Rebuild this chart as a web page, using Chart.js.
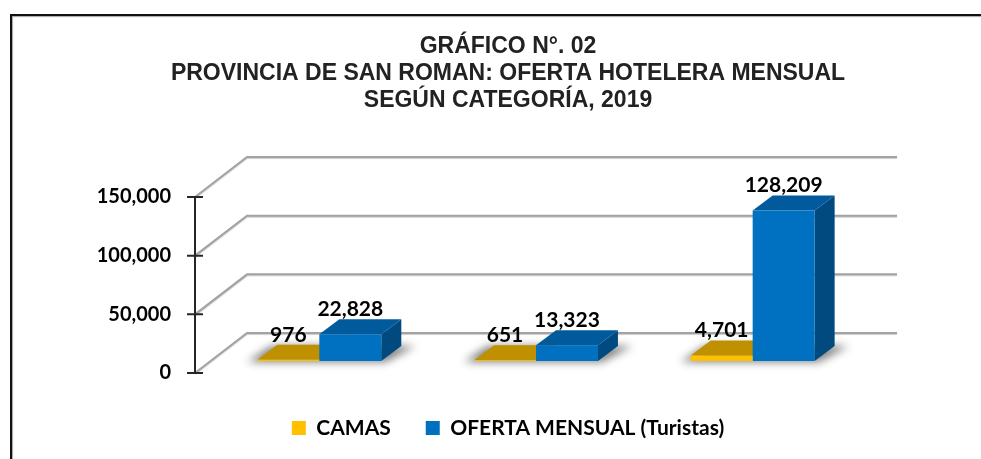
<!DOCTYPE html>
<html lang="es">
<head>
<meta charset="utf-8">
<title>Gráfico N°. 02</title>
<script src="https://cdn.jsdelivr.net/npm/chart.js@4.4.1/dist/chart.umd.min.js"></script>
<style>
  html, body { margin: 0; padding: 0; background: #fff; }
  canvas { display: block; }
</style>
</head>
<body>
<canvas id="grafico" width="981" height="459"></canvas>
<script>
// Oferta hotelera mensual por categoría — barras "3D" al estilo Excel.
// Las caras superior/lateral y la pared del fondo se dibujan con un plugin a partir de las escalas.

const TITULO = ['GRÁFICO N°. 02', 'PROVINCIA DE SAN ROMAN: OFERTA HOTELERA MENSUAL', 'SEGÚN CATEGORÍA, 2019'];
const CATEGORIAS = ['', '', ''];            // el gráfico original no rotula las categorías
const CAMAS = [976, 651, 4701];
const OFERTA_MENSUAL = [22828, 13323, 128209];
const Y_TICKS = [0, 50000, 100000, 150000];

// profundidad de la caja 3D (px): pared del fondo, plano de las barras, grosor de cada barra
const PROF = { dx: 52, dy: 40, barX: 16, barY: 12, caraX: 20, caraY: 15 };
const COLORES = {
    camas: { frente: '#FFC000', arriba: '#BF9000', lado: '#9C7500' },
    oferta: { frente: '#0070C0', arriba: '#005A9C', lado: '#004A80' },
};
const FUENTE = 'Lato, "Open Sans", sans-serif';
const num = n => n.toLocaleString('en-US');

function poligono(ctx, pts, fill) {
    ctx.beginPath();
    ctx.moveTo(pts[0][0], pts[0][1]);
    for (let i = 1; i < pts.length; i++) ctx.lineTo(pts[i][0], pts[i][1]);
    ctx.closePath();
    ctx.fillStyle = fill;
    ctx.fill();
}

const caja3d = {
    id: 'caja3d',
    beforeDraw(chart) {
        const { ctx, width, height } = chart;
        ctx.save();
        ctx.fillStyle = '#fff';
        ctx.fillRect(0, 0, width, height);
        // marco exterior (solo borde superior e izquierdo visibles)
        ctx.strokeStyle = '#111';
        ctx.lineWidth = 2;
        ctx.shadowColor = 'rgba(0,0,0,0.35)';
        ctx.shadowOffsetX = 1;
        ctx.shadowOffsetY = 1;
        ctx.shadowBlur = 1;
        ctx.beginPath();
        ctx.moveTo(11, height);
        ctx.lineTo(11, 15);
        ctx.lineTo(width, 15);
        ctx.stroke();
        ctx.restore();
    },
    beforeDatasetsDraw(chart) {
        const { ctx, chartArea: a, scales: { y } } = chart;
        const x0 = a.left - PROF.barX;                 // plano frontal (eje)
        const xFondo = a.right - PROF.barX + PROF.dx;  // fin de la pared del fondo
        ctx.save();

        // líneas de la pared (diagonal + horizontal)
        ctx.strokeStyle = '#a3a3a3';
        ctx.lineWidth = 2;
        ctx.shadowColor = 'rgba(0,0,0,0.2)';
        ctx.shadowOffsetY = 1;
        ctx.shadowBlur = 1;
        y.ticks.forEach(t => {
            const py = y.getPixelForValue(t.value) + PROF.barY;
            ctx.beginPath();
            ctx.moveTo(x0, py);
            ctx.lineTo(x0 + PROF.dx, py - PROF.dy);
            ctx.lineTo(xFondo, py - PROF.dy);
            ctx.stroke();
        });
        ctx.shadowColor = 'transparent';

        // eje vertical con marcas
        const yTop = y.getPixelForValue(y.max) + PROF.barY;
        const yBot = y.getPixelForValue(y.min) + PROF.barY;
        ctx.strokeStyle = '#262626';
        ctx.lineWidth = 2;
        ctx.beginPath();
        ctx.moveTo(x0, yTop);
        ctx.lineTo(x0, yBot);
        y.ticks.forEach(t => {
            const py = y.getPixelForValue(t.value) + PROF.barY;
            ctx.moveTo(x0 - 8, py);
            ctx.lineTo(x0 + 8, py);
        });
        ctx.stroke();

        // sombra difusa de cada grupo sobre el piso
        const m0 = chart.getDatasetMeta(0), m1 = chart.getDatasetMeta(1);
        ctx.filter = 'blur(4px)';
        m0.data.forEach((b0, i) => {
            const b1 = m1.data[i];
            const l = b0.x - b0.width / 2, r = b1.x + b1.width / 2, base = b0.base;
            poligono(ctx, [[l - 10, base + 1], [r + 4, base + 1], [r + PROF.caraX + 14, base - PROF.caraY],
                [l + PROF.caraX - 6, base - PROF.caraY]], 'rgba(0,0,0,0.5)');
        });
        ctx.filter = 'none';

        // caras superior y lateral (las frontales las pinta Chart.js encima)
        [[m0, COLORES.camas], [m1, COLORES.oferta]].forEach(([meta, c]) => {
            meta.data.forEach(b => {
                const l = b.x - b.width / 2, r = b.x + b.width / 2;
                const dx = PROF.caraX, dy = PROF.caraY;
                poligono(ctx, [[r, b.y], [r + dx, b.y - dy], [r + dx, b.base - dy], [r, b.base]], c.lado);
                poligono(ctx, [[l, b.y], [r, b.y], [r + dx, b.y - dy], [l + dx, b.y - dy]], c.arriba);
            });
        });
        ctx.restore();
    },
    afterDatasetsDraw(chart) {
        const { ctx } = chart;
        ctx.save();
        ctx.font = 'bold 21px ' + FUENTE;
        ctx.fillStyle = '#000';
        ctx.textAlign = 'center';
        ctx.textBaseline = 'middle';
        chart.data.datasets.forEach((ds, di) => {
            chart.getDatasetMeta(di).data.forEach((b, i) => {
                ctx.fillText(num(ds.data[i]), b.x, b.y - 25);
            });
        });
        ctx.restore();
    },
};

new Chart(document.getElementById('grafico'), {
    type: 'bar',
    data: {
        labels: CATEGORIAS,
        datasets: [
            { label: 'CAMAS', data: CAMAS, backgroundColor: COLORES.camas.frente, borderWidth: 0 },
            { label: 'OFERTA MENSUAL (Turistas)', data: OFERTA_MENSUAL, backgroundColor: COLORES.oferta.frente, borderWidth: 0 },
        ],
    },
    options: {
        responsive: false,
        animation: false,
        events: [],
        layout: { padding: { left: 90, right: 55, top: 0, bottom: 10.5 } },
        datasets: { bar: { categoryPercentage: 0.572, barPercentage: 1 } },
        scales: {
            x: {
                grid: { display: false, drawTicks: false },
                border: { display: false },
                ticks: { display: false },
                afterFit: s => { s.height = 21.5; },
            },
            y: {
                min: Y_TICKS[0],
                max: Y_TICKS[Y_TICKS.length - 1],
                grid: { display: false, drawTicks: false },
                border: { display: false },
                ticks: {
                    stepSize: Y_TICKS[1] - Y_TICKS[0],
                    padding: 40,
                    labelOffset: PROF.barY,
                    color: '#000',
                    font: { family: FUENTE, size: 20, weight: 'bold' },
                    callback: v => num(v),
                },
                afterFit: s => { s.width = 121; },
            },
            // eje vacío a la derecha: deja el hueco donde termina la pared del fondo
            derecha: {
                type: 'linear',
                position: 'right',
                grid: { display: false, drawTicks: false },
                border: { display: false },
                ticks: { display: false },
                afterFit: s => { s.width = 65; },
            },
        },
        plugins: {
            title: {
                display: true,
                text: TITULO,
                color: '#222',
                font: { family: '"Liberation Sans", Arial, sans-serif', size: 23, weight: 'bold', lineHeight: 27 / 23 },
                padding: { top: 33.5, bottom: 70.5 },
            },
            legend: {
                position: 'bottom',
                labels: {
                    color: '#000',
                    boxWidth: 14,
                    boxHeight: 14,
                    padding: 35,
                    font: { family: FUENTE, size: 21, weight: 'bold' },
                },
            },
            tooltip: { enabled: false },
        },
    },
    plugins: [caja3d],
});
</script>
</body>
</html>
